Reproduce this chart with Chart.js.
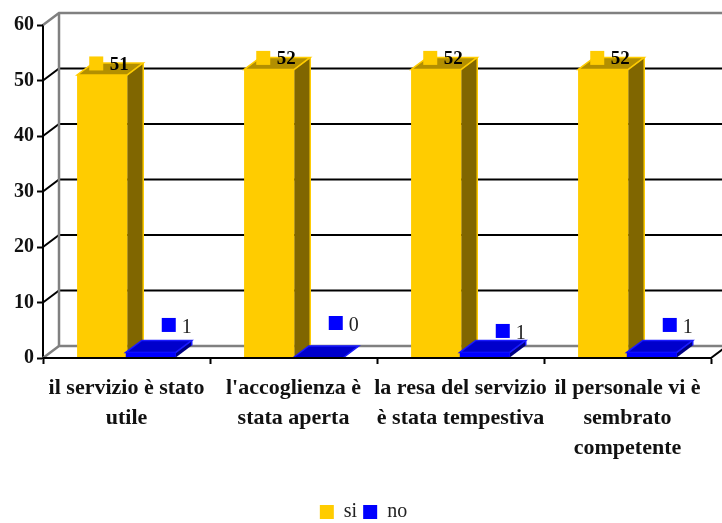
<!DOCTYPE html>
<html><head><meta charset="utf-8">
<script src="https://cdn.jsdelivr.net/npm/chart.js@4"></script>
<style>html,body{margin:0;padding:0;background:#fff}#w{width:722px;height:523px}</style>
</head><body><div id="w"><canvas id="c" width="722" height="523"></canvas></div>
<script>
const categories = [
  ["il servizio è stato","utile"],
  ["l'accoglienza è","stata aperta"],
  ["la resa del servizio","è stata tempestiva"],
  ["il personale vi è","sembrato","competente"]
];
const si = [51,52,52,52];
const no = [1,0,1,1];
const yTicks = [0,10,20,30,40,50,60];

const DX = 16, DY = -12;
const FONT = '"Liberation Serif", serif';
const noLabelShift = [0,-7.5,6,0];
const faces = [
  {front:'#FFCC00', side:'#806600', top:'#B38F00', edge:'#FFCC00'},
  {front:'#0000FF', side:'#000080', top:'#0000CC', edge:'#1A1AFF'}
];

function poly(ctx, pts, fill, edge){
  ctx.beginPath();
  pts.forEach((p,i)=> i?ctx.lineTo(p[0],p[1]):ctx.moveTo(p[0],p[1]));
  ctx.closePath();
  ctx.fillStyle = fill; ctx.fill();
  if(edge){ctx.strokeStyle = edge; ctx.lineWidth = 1.5; ctx.stroke();}
}
const wall = {
  id:'wall',
  afterLayout(chart){
    chart.legend.left += 8;
    chart.legend.right += 8;
  },
  beforeDatasetsDraw(chart){
    const {ctx, scales:{x,y}, chartArea:a} = chart;
    ctx.save();
    ctx.lineCap='butt';
    yTicks.forEach(v=>{
      const py = y.getPixelForValue(v);
      const edge = (v===0 || v===60);
      ctx.strokeStyle = edge ? '#808080' : '#000000';
      ctx.lineWidth = edge ? 2.5 : 2;
      ctx.beginPath();
      ctx.moveTo(a.left,py);
      ctx.lineTo(a.left+DX,py+DY);
      ctx.lineTo(chart.width+2,py+DY);
      ctx.stroke();
    });
    ctx.strokeStyle='#808080'; ctx.lineWidth=2.5;
    ctx.beginPath();
    ctx.moveTo(a.left+DX,y.getPixelForValue(60)+DY);
    ctx.lineTo(a.left+DX,y.getPixelForValue(0)+DY);
    ctx.stroke();
    ctx.strokeStyle='#000'; ctx.lineWidth=2;
    ctx.beginPath();
    ctx.moveTo(a.right,a.bottom);
    ctx.lineTo(a.right+DX,a.bottom+DY);
    ctx.stroke();
    ctx.restore();
  },
  afterDatasetsDraw(chart){
    const {ctx} = chart;
    ctx.save();
    [0,1].forEach(di=>{
      const f = faces[di];
      chart.getDatasetMeta(di).data.forEach(b=>{
        const l=b.x-b.width/2, r=b.x+b.width/2, t=b.y, bt=b.base;
        poly(ctx,[[r,t],[r+DX,t+DY],[r+DX,bt+DY],[r,bt]],f.side,null);
        poly(ctx,[[l,t],[l+DX,t+DY],[r+DX,t+DY],[r,t]],f.top,f.edge);
        ctx.strokeStyle=f.edge; ctx.lineWidth=1.5;
        ctx.beginPath();ctx.moveTo(r+DX,t+DY);ctx.lineTo(r+DX,bt+DY);ctx.stroke();
        b.draw(ctx);
      });
    });
    ctx.strokeStyle='#000';ctx.lineWidth=2;
    ctx.beginPath();ctx.moveTo(chart.chartArea.left,chart.chartArea.bottom);ctx.lineTo(chart.chartArea.right,chart.chartArea.bottom);ctx.stroke();
    ctx.textBaseline='middle';ctx.textAlign='center';
    chart.getDatasetMeta(0).data.forEach((b,i)=>{
      ctx.fillStyle=faces[0].front;
      ctx.fillRect(b.x-13,b.y-18.5,14,14);
      ctx.fillStyle='#000';ctx.font='bold 19px '+FONT;
      ctx.fillText(String(si[i]),b.x+17,b.y-10);
    });
    chart.getDatasetMeta(1).data.forEach((b,i)=>{
      const yy=b.y+noLabelShift[i];
      ctx.fillStyle=faces[1].front;
      ctx.fillRect(b.x+11,yy-34.5,14,14);
      ctx.fillStyle='#222';ctx.font='20px '+FONT;
      ctx.fillText(String(no[i]),b.x+36,yy-25);
    });
    ctx.restore();
  }
};
new Chart(document.getElementById('c'),{
  type:'bar',
  data:{labels:categories,datasets:[
    {label:'si',data:si,backgroundColor:faces[0].front,barPercentage:1.03,categoryPercentage:0.581,borderWidth:0},
    {label:'no',data:no,backgroundColor:faces[1].front,barPercentage:1.03,categoryPercentage:0.581,borderWidth:0}
  ]},
  options:{
    responsive:false,animation:false,
    layout:{padding:{left:0,right:11,top:25,bottom:-9}},
    plugins:{
      tooltip:{enabled:false},
      legend:{position:'bottom',
        labels:{boxWidth:14,boxHeight:14,padding:6,color:'#222',font:{family:FONT,size:20}}}
    },
    scales:{
      x:{
        afterFit(s){s.height=138;},
        grid:{drawOnChartArea:false,drawTicks:true,tickLength:6,tickWidth:2,tickColor:'#000',color:'#000'},
        border:{color:'#000',width:2},
        ticks:{color:'#111',padding:9,autoSkip:false,maxRotation:0,minRotation:0,
          font:{family:FONT,size:22,weight:'bold',lineHeight:'30px'}}
      },
      y:{
        min:0,max:60,
        afterFit(s){s.width=43;},
        grid:{drawOnChartArea:false,drawTicks:true,tickLength:6,tickWidth:2,tickColor:'#000',color:'#000'},
        border:{color:'#000',width:2},
        ticks:{color:'#111',stepSize:10,padding:3,font:{family:FONT,size:20,weight:'bold'}}
      }
    }
  },
  plugins:[wall]
});
</script></body></html>
